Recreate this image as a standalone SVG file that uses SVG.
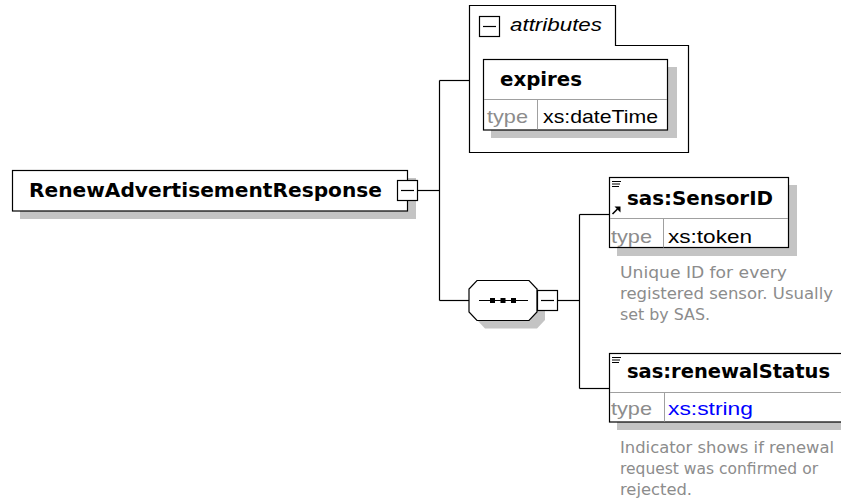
<svg xmlns="http://www.w3.org/2000/svg" width="841" height="503" viewBox="0 0 841 503">
  <style>
    .box { fill: #ffffff; stroke: #000000; stroke-width: 1.2; }
    .shadow { fill: #c4c4c4; stroke: none; }
    .sep { stroke: #a0a0a0; stroke-width: 1; fill: none; }
    .wire { stroke: #000000; stroke-width: 1.2; fill: none; }
    .name { font-family: "DejaVu Sans", Verdana, sans-serif; font-weight: bold; font-size: 20px; fill: #000000; }
    .lbl { font-family: "Liberation Sans", Arial, sans-serif; font-size: 19px; fill: #8c8c8c; }
    .val { font-family: "Liberation Sans", Arial, sans-serif; font-size: 19px; fill: #000000; }
    .link { fill: #0000ff; }
    .doc { font-family: "DejaVu Sans", Tahoma, sans-serif; font-size: 16px; fill: #8c8c8c; }
    .attr { font-family: "Liberation Sans", Arial, sans-serif; font-style: italic; font-size: 19px; fill: #000000; }
  </style>
  <defs>
    <!-- collapse/expand toggle: square with a minus bar -->
    <g id="toggle">
      <rect x="0.5" y="0.5" width="20" height="20" class="box"/>
      <line x1="4" y1="10.5" x2="17" y2="10.5" stroke="#000" stroke-width="1.2"/>
    </g>
  </defs>

  <rect width="841" height="503" fill="#ffffff"/>

  <!-- connectors -->
  <g id="connectors">
    <path class="wire" d="M418,190.5 H439.5"/>
    <path class="wire" d="M439.5,80.5 V300.5"/>
    <path class="wire" d="M439.5,80.5 H469.5"/>
    <path class="wire" d="M439.5,300.5 H469"/>
    <path class="wire" d="M558,300.5 H579.5"/>
    <path class="wire" d="M579.5,214.5 V388.5"/>
    <path class="wire" d="M579.5,214.5 H609.5"/>
    <path class="wire" d="M579.5,388.5 H609.5"/>
  </g>

  <!-- root element -->
  <g id="node-root">
    <rect class="shadow" x="20" y="178" width="396" height="41"/>
    <rect class="box" x="12.5" y="170.5" width="395" height="40.5"/>
    <text class="name" x="29" y="197" textLength="353" lengthAdjust="spacingAndGlyphs">RenewAdvertisementResponse</text>
    <use href="#toggle" x="397" y="180"/>
  </g>

  <!-- attributes container -->
  <g id="node-attributes">
    <path class="box" d="M469.5,152.5 V5.5 H615.5 V45.5 H688.5 V152.5 Z"/>
    <use href="#toggle" x="479" y="16"/>
    <text class="attr" x="510" y="31" textLength="92" lengthAdjust="spacingAndGlyphs">attributes</text>
  </g>

  <!-- attribute: expires -->
  <g id="node-expires">
    <rect class="shadow" x="491" y="67" width="186" height="71"/>
    <rect class="box" x="483.5" y="59.5" width="184" height="70.5"/>
    <line class="sep" x1="484" y1="99.5" x2="667" y2="99.5"/>
    <line class="sep" x1="537.5" y1="100" x2="537.5" y2="129.5"/>
    <text class="name" x="500" y="86" textLength="82" lengthAdjust="spacingAndGlyphs">expires</text>
    <text class="lbl" x="487" y="123" textLength="41" lengthAdjust="spacingAndGlyphs">type</text>
    <text class="val" x="543" y="123" textLength="115" lengthAdjust="spacingAndGlyphs">xs:dateTime</text>
  </g>

  <!-- sequence compositor -->
  <g id="node-sequence">
    <polygon class="shadow" points="485,288 537,288 545,297 545,320 537,328.5 485,328.5 477,320 477,297"/>
    <polygon class="box" points="477,280.5 529,280.5 537,289 537,312 529,320.5 477,320.5 469,312 469,289"/>
    <line x1="479" y1="300.5" x2="528" y2="300.5" stroke="#000" stroke-width="1.2"/>
    <rect x="490" y="298" width="5" height="5" fill="#000"/>
    <rect x="500.5" y="298" width="5" height="5" fill="#000"/>
    <rect x="511" y="298" width="5" height="5" fill="#000"/>
    <use href="#toggle" x="537" y="290"/>
  </g>

  <!-- element: sas:SensorID (reference) -->
  <g id="node-sensorid">
    <rect class="shadow" x="617" y="185" width="180" height="71"/>
    <rect class="box" x="609.5" y="177.5" width="179" height="70"/>
    <line class="sep" x1="610" y1="218.5" x2="788" y2="218.5"/>
    <line class="sep" x1="663.5" y1="219" x2="663.5" y2="247.5"/>
    <g stroke="#000" stroke-width="1">
      <line x1="612" y1="181.5" x2="621" y2="181.5"/>
      <line x1="612" y1="184" x2="620" y2="184"/>
      <line x1="612" y1="186.5" x2="619" y2="186.5"/>
      <line x1="612.5" y1="214" x2="617.5" y2="209" stroke-width="1.6"/>
    </g>
    <polygon points="614.5,206.5 620.5,206.5 620.5,212.5" fill="#000"/>
    <text class="name" x="627" y="205" textLength="146" lengthAdjust="spacingAndGlyphs">sas:SensorID</text>
    <text class="lbl" x="611" y="243" textLength="41" lengthAdjust="spacingAndGlyphs">type</text>
    <text class="val" x="668" y="243" textLength="84" lengthAdjust="spacingAndGlyphs">xs:token</text>
    <text class="doc" x="620" y="278" textLength="167" lengthAdjust="spacingAndGlyphs">Unique ID for every</text>
    <text class="doc" x="620" y="299" textLength="213" lengthAdjust="spacingAndGlyphs">registered sensor. Usually</text>
    <text class="doc" x="620" y="320" textLength="90" lengthAdjust="spacingAndGlyphs">set by SAS.</text>
  </g>

  <!-- element: sas:renewalStatus -->
  <g id="node-renewalstatus">
    <rect class="shadow" x="617" y="361" width="240" height="69"/>
    <rect class="box" x="609.5" y="353.5" width="240" height="68.5"/>
    <line class="sep" x1="610" y1="392.5" x2="841" y2="392.5"/>
    <line class="sep" x1="664.5" y1="393" x2="664.5" y2="421.5"/>
    <g stroke="#000" stroke-width="1">
      <line x1="612" y1="357.5" x2="621" y2="357.5"/>
      <line x1="612" y1="360" x2="620" y2="360"/>
      <line x1="612" y1="362.5" x2="619" y2="362.5"/>
    </g>
    <text class="name" x="627" y="378" textLength="203" lengthAdjust="spacingAndGlyphs">sas:renewalStatus</text>
    <text class="lbl" x="611" y="415" textLength="41" lengthAdjust="spacingAndGlyphs">type</text>
    <text class="val link" x="668" y="415" textLength="85" lengthAdjust="spacingAndGlyphs">xs:string</text>
    <text class="doc" x="620" y="453" textLength="214" lengthAdjust="spacingAndGlyphs">Indicator shows if renewal</text>
    <text class="doc" x="620" y="474" textLength="198" lengthAdjust="spacingAndGlyphs">request was confirmed or</text>
    <text class="doc" x="620" y="495" textLength="72" lengthAdjust="spacingAndGlyphs">rejected.</text>
  </g>
</svg>
